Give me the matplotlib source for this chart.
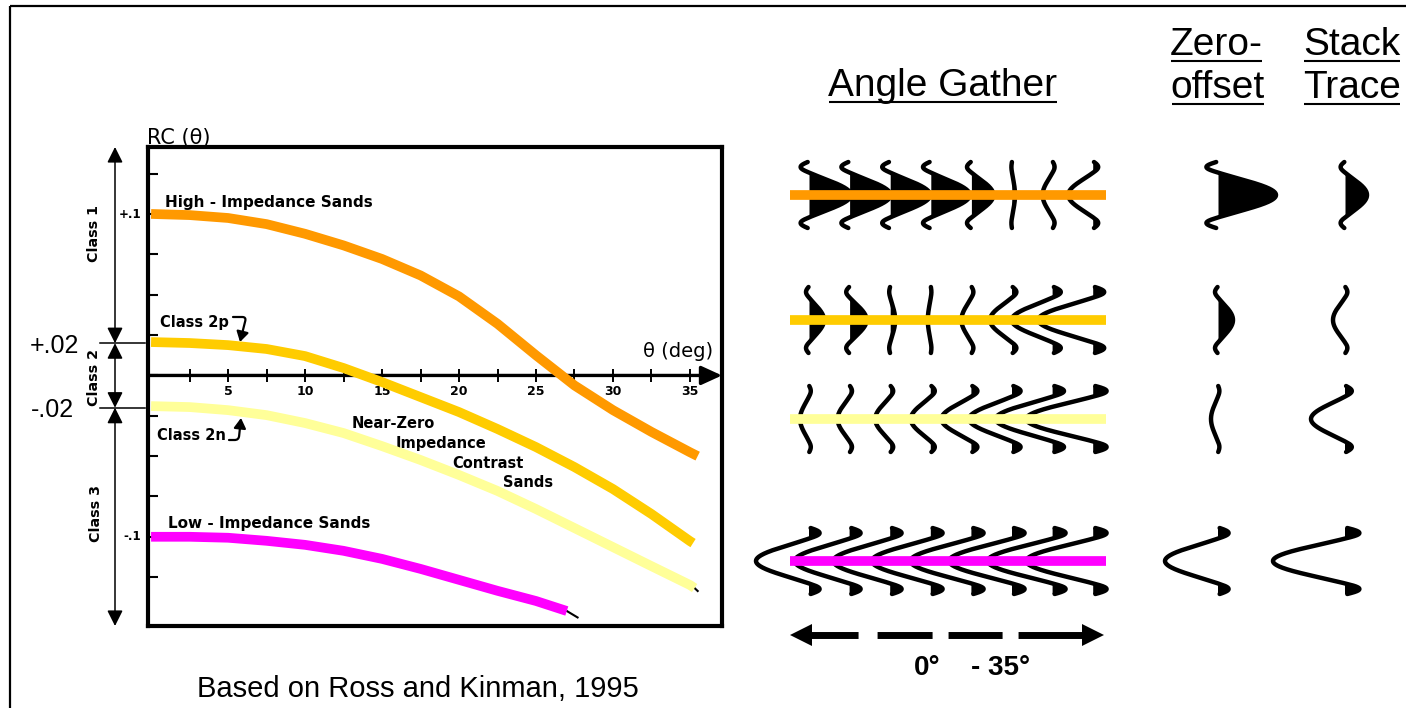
import numpy as np
import matplotlib
matplotlib.use("Agg")
import matplotlib.pyplot as plt
from matplotlib.transforms import blended_transform_factory

plt.rcParams["font.family"] = ["DejaVu Sans"]
plt.rcParams["lines.scale_dashes"] = False

# ---------------- AVO curves: reflection coefficient vs incidence angle ----------------
theta_class1 = [0, 2.5, 5, 7.5, 10, 12.5, 15, 17.5, 20, 22.5, 25, 27.5, 30, 32.5, 35, 35.5]
rc_class1 = [0.1001, 0.0994, 0.0976, 0.0938, 0.0878, 0.0806, 0.0722, 0.0620, 0.0490,
             0.0320, 0.0125, -0.0062, -0.0215, -0.0350, -0.0476, -0.0500]

theta_class2p = [0, 2.5, 5, 7.5, 10, 12.5, 15, 17.5, 20, 22.5, 25, 27.5, 30, 32.5, 35, 35.2]
rc_class2p = [0.0207, 0.0201, 0.0188, 0.0164, 0.0120, 0.0046, -0.0041, -0.0134, -0.0227,
              -0.0332, -0.0444, -0.0568, -0.0704, -0.0859, -0.1027, -0.1039]

theta_class2n = [0, 2.5, 5, 7.5, 10, 12.5, 15, 17.5, 20, 22.5, 25, 27.5, 30, 32.5, 35, 35.3]
rc_class2n = [-0.0190, -0.0196, -0.0215, -0.0246, -0.0295, -0.0357, -0.0438, -0.0524, -0.0617,
              -0.0716, -0.0828, -0.0946, -0.1064, -0.1182, -0.1299, -0.1318]
tail_theta_class2n = [35.3, 35.5]
tail_rc_class2n = [-0.1318, -0.1336]

theta_class3 = [0, 2.5, 5, 7.5, 10, 12.5, 15, 17.5, 20, 22.5, 25, 27]
rc_class3 = [-0.1000, -0.1000, -0.1006, -0.1025, -0.1050, -0.1087, -0.1137, -0.1199,
             -0.1267, -0.1335, -0.1398, -0.1460]
tail_theta_class3 = [27, 27.7]
tail_rc_class3 = [-0.1460, -0.1500]

class_bounds = [0.02, -0.02]
x_tick_labels = [5, 10, 15, 20, 25, 30, 35]

# ---------------- synthetic gathers: trace amplitudes per angle ----------------
gather_angles = [0, 5, 10, 15, 20, 25, 30, 35]
amp_class1 = [42, 41, 40, 39, 22, 3, -10, -25]
amp_class2p = [15, 17, 5, -3, -10, -22, -41, -55]
amp_class2n = [-9, -12, -15, -20, -30, -43, -57, -67]
amp_class3 = [-53, -55, -57, -59, -61, -63, -65, -67]
zero_offset_amp = [58, 15, -7, -53]
stack_amp = [22, -12, -34, -72]

row_colors = ["#FF9900", "#FFCC00", "#FFFF99", "#FF00FF"]

W, H = 1406, 708
fig = plt.figure(figsize=(W / 100, H / 100), dpi=100)
fig.patch.set_facecolor("white")

# full-figure drawing surface in pixel units (y downward)
canvas = fig.add_axes([0, 0, 1, 1])
canvas.set_xlim(0, W)
canvas.set_ylim(H, 0)
canvas.axis("off")

# outer frame (top and left edges)
canvas.plot([10, W], [6, 6], color="black", lw=1.6, solid_capstyle="butt")
canvas.plot([10, 10], [6, H], color="black", lw=1.6, solid_capstyle="butt")

# ---------------- RC(theta) chart ----------------
ax_l, ax_r, ax_t, ax_b = 148, 722, 147, 626
ax = fig.add_axes([ax_l / W, 1 - ax_b / H, (ax_r - ax_l) / W, (ax_b - ax_t) / H])
ax.set_facecolor("none")
ax.set_xlim(-0.2, 37.08)
ax.set_ylim(-0.1553, 0.1416)
for sp in ax.spines.values():
    sp.set_linewidth(3.0)
    sp.set_color("black")
ax.set_xticks([])
ax.set_yticks(np.arange(-0.125, 0.1251, 0.025))
ax.tick_params(axis="y", direction="in", length=7, width=1.5, labelleft=False)

# theta axis with arrow
ax.annotate("", xy=(37.08, 0), xytext=(-0.2, 0), xycoords="data", annotation_clip=False,
            arrowprops=dict(arrowstyle="-|>,head_length=0.7,head_width=0.32", lw=2.4,
                            color="black", shrinkA=0, shrinkB=0, mutation_scale=18))
minor = np.arange(2.5, 35.01, 2.5)
ax.vlines(minor, -0.0043, 0.0043, color="black", lw=1.4, zorder=3)
for v in x_tick_labels:
    ax.text(v, -0.0100, str(v), ha="center", va="center", fontsize=9, fontweight="bold", zorder=3)

curve_kw = dict(lw=7.0, solid_capstyle="butt", solid_joinstyle="round", zorder=6)
ax.plot(theta_class1, rc_class1, color=row_colors[0], **curve_kw)
ax.plot(theta_class2p, rc_class2p, color=row_colors[1], **curve_kw)
ax.plot(theta_class2n, rc_class2n, color=row_colors[2], **curve_kw)
ax.plot(theta_class3, rc_class3, color=row_colors[3], **curve_kw)
ax.plot(tail_theta_class2n, tail_rc_class2n, color="black", lw=1.5, zorder=5)
ax.plot(tail_theta_class3, tail_rc_class3, color="black", lw=1.5, zorder=5)

ax.text(-0.012, 0.1, "+.1", transform=ax.get_yaxis_transform(), ha="right", va="center",
        fontsize=8.5, fontweight="bold")
ax.text(-0.012, -0.1, "-.1", transform=ax.get_yaxis_transform(), ha="right", va="center",
        fontsize=8.5, fontweight="bold")

lab = dict(fontsize=10.5, fontweight="bold", va="baseline", ha="left", zorder=8)
canvas.text(165, 207, "High - Impedance Sands", **dict(lab, fontsize=11))
canvas.text(160, 327, "Class 2p", **lab)
canvas.text(157, 440, "Class 2n", **lab)
canvas.text(352, 428, "Near-Zero", **lab)
canvas.text(396, 448, "Impedance", **lab)
canvas.text(452, 468, "Contrast", **lab)
canvas.text(503, 487, "Sands", **lab)
canvas.text(168, 528, "Low - Impedance Sands", **dict(lab, fontsize=11))
canvas.text(147, 144, "RC (θ)", fontsize=15, va="baseline", ha="left")
canvas.text(643, 357, "θ (deg)", fontsize=14, va="baseline", ha="left")

# small pointer arrows for the Class 2p / 2n labels
canvas.annotate("", xy=(240, 342), xytext=(233, 317),
                arrowprops=dict(arrowstyle="-|>,head_length=0.5,head_width=0.3", lw=1.6,
                                color="black", shrinkA=0, shrinkB=0, mutation_scale=12,
                                connectionstyle="angle,angleA=0,angleB=76,rad=4"))
canvas.annotate("", xy=(241, 418), xytext=(229, 440),
                arrowprops=dict(arrowstyle="-|>,head_length=0.5,head_width=0.3", lw=1.6,
                                color="black", shrinkA=0, shrinkB=0, mutation_scale=12,
                                connectionstyle="angle,angleA=0,angleB=84,rad=4"))

# class brackets on the left
trans = blended_transform_factory(canvas.transData, ax.transData)
ylo, yhi = ax.get_ylim()
edges = [yhi] + class_bounds + [ylo]
for hi, lo in zip(edges[:-1], edges[1:]):
    canvas.annotate("", xy=(115, hi), xytext=(115, lo), xycoords=trans, textcoords=trans,
                    arrowprops=dict(arrowstyle="<|-|>,head_length=0.9,head_width=0.45", lw=1.1,
                                    color="black", shrinkA=0, shrinkB=0, mutation_scale=10.5))
for b in class_bounds:
    canvas.plot([100, 145], [b, b], transform=trans, color="black", lw=1.1)
canvas.text(79, class_bounds[0], "+.02", transform=trans, ha="right", va="center_baseline",
            fontsize=18, family="Liberation Sans")
canvas.text(74, class_bounds[1], "-.02", transform=trans, ha="right", va="center_baseline",
            fontsize=18, family="Liberation Sans")
cls = dict(rotation=90, ha="center", va="center", fontsize=10.3, fontweight="bold")
canvas.text(94, 233, "Class 1", **cls)
canvas.text(94, 377, "Class 2", **cls)
canvas.text(96, 514, "Class 3", **cls)

canvas.text(418, 697, "Based on Ross and Kinman, 1995", ha="center", va="baseline",
            fontsize=21, family="Liberation Sans")

# ---------------- wiggle traces ----------------
def wavelet(t):
    a = np.abs(t)
    u = 1.04 * t
    main = (1 - 2 * u ** 2) * np.exp(-u ** 2)
    s = np.clip((a - 0.68) / 0.32, 0, 1)
    hook = -0.2 * np.sin(0.95 * np.pi * s)
    return np.where(a <= 0.68, main, hook)


def draw_trace(x0, yc, amp, half=33):
    t = np.linspace(-1, 1, 301)
    x = x0 + amp * wavelet(t)
    y = yc + half * t
    canvas.fill_betweenx(y, x0, x, where=x > x0, interpolate=True, color="black", lw=0, zorder=3)
    canvas.plot(x, y, color="black", lw=3.2, solid_capstyle="round", zorder=4)


row_y = [195, 320, 419, 561]
gather_x0, trace_step = 809, 40.6 / 5
zero_x, stack_x = 1218, 1345
rows = [amp_class1, amp_class2p, amp_class2n, amp_class3]
for r, amps in enumerate(rows):
    for ang, a in zip(gather_angles, amps):
        draw_trace(gather_x0 + ang * trace_step, row_y[r], a)
    canvas.plot([790, 1106], [row_y[r], row_y[r]], color=row_colors[r], lw=7,
                solid_capstyle="butt", zorder=5)
    draw_trace(zero_x, row_y[r], zero_offset_amp[r])
    draw_trace(stack_x, row_y[r], stack_amp[r])

# angle range arrow
canvas.plot([810, 1083], [635, 635], color="black", lw=5,
            linestyle=(0, (34.6, 13.7, 39.6, 11.5, 38.9, 11.5, 46.8, 0.1)),
            solid_capstyle="butt", dash_capstyle="butt")
canvas.plot([801], [635], marker="<", ms=16, color="black", mew=0)
canvas.plot([1093], [635], marker=">", ms=16, color="black", mew=0)
canvas.text(927, 675, "0°", ha="center", va="baseline", fontsize=20, fontweight="bold",
            family="Liberation Sans")
canvas.text(1001, 675, "- 35°", ha="center", va="baseline", fontsize=20, fontweight="bold",
            family="Liberation Sans")

# column headings (underlined)
hd = dict(ha="center", va="baseline", fontsize=28, family="Liberation Sans")
heads = [canvas.text(943, 96, "Angle Gather", **hd),
         canvas.text(1216, 55, "Zero-", **hd),
         canvas.text(1218, 98, "offset", **hd),
         canvas.text(1352, 55, "Stack", **hd),
         canvas.text(1352, 98, "Trace", **hd)]
fig.canvas.draw()
inv = canvas.transData.inverted()
for h in heads:
    bb = h.get_window_extent()
    (x0, _), (x1, _) = inv.transform([(bb.x0, bb.y0), (bb.x1, bb.y0)])
    yb = h.get_position()[1] + 6
    canvas.plot([x0 + 1, x1 - 1], [yb, yb], color="black", lw=1.5, solid_capstyle="butt")

fig.savefig("out.png", dpi=100, facecolor="white")
